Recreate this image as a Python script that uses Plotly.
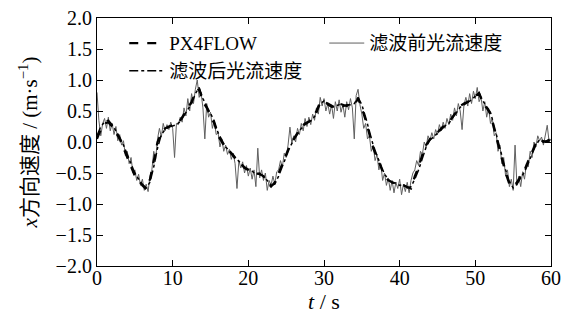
import numpy as np
import plotly.graph_objects as go

# PX4FLOW reference, sampled every 0.5 s
t_px = np.arange(0, 60.01, 0.5)
v_px = [0.05, 0.20, 0.30, 0.32, 0.25, 0.15, 0.05, -0.10, -0.25, -0.40,
        -0.55, -0.62, -0.70, -0.76, -0.60, -0.30, 0.00, 0.15, 0.22, 0.25,
        0.28, 0.30, 0.35, 0.45, 0.55, 0.65, 0.82, 0.85, 0.65, 0.55,
        0.42, 0.30, 0.10, 0.00, -0.10, -0.15, -0.22, -0.30, -0.35, -0.42,
        -0.45, -0.48, -0.50, -0.52, -0.55, -0.65, -0.72, -0.65, -0.50, -0.35,
        -0.20, -0.05, 0.05, 0.15, 0.25, 0.30, 0.33, 0.38, 0.50, 0.65,
        0.65, 0.62, 0.58, 0.55, 0.62, 0.60, 0.58, 0.62, 0.60, 0.70,
        0.55, 0.35, 0.10, -0.10, -0.25, -0.40, -0.55, -0.62, -0.65, -0.68,
        -0.70, -0.70, -0.72, -0.75, -0.55, -0.40, -0.20, -0.05, 0.05, 0.10,
        0.15, 0.22, 0.28, 0.32, 0.40, 0.50, 0.58, 0.62, 0.65, 0.70,
        0.75, 0.78, 0.62, 0.55, 0.45, 0.20, -0.05, -0.30, -0.50, -0.68,
        -0.72, -0.65, -0.55, -0.45, -0.30, -0.15, -0.02, 0.05, 0.00, 0.02,
        0.05]

# optical flow before filtering, sampled every 0.25 s
t_raw = np.arange(0, 60.001, 0.25)
v_raw = [0.80, 0.35, 0.10, 0.30, 0.38, 0.22, 0.40, 0.18, 0.30, 0.12, 0.25, 0.02,
         0.12, -0.05, 0.02, -0.22, -0.15, -0.35, -0.25, -0.50, -0.45, -0.62, -0.52, -0.70,
         -0.60, -0.78, -0.68, -0.80, -0.55, -0.45, -0.15, -0.28, 0.05, 0.22, 0.08, 0.30,
         0.18, 0.28, 0.20, 0.32, 0.22, -0.25, 0.30, 0.28, 0.40, 0.32, 0.55, 0.42,
         0.70, 0.50, 0.78, 0.62, 0.85, 1.00, 0.72, 0.80, 0.55, 0.05, 0.62, 0.40,
         0.48, 0.22, 0.35, 0.12, 0.15, -0.08, 0.05, -0.15, -0.05, -0.20, -0.12, -0.28,
         -0.18, -0.35, -0.75, -0.30, -0.42, -0.32, -0.50, -0.38, -0.55, -0.42, -0.60, -0.45,
         -0.72, -0.10, -0.58, -0.45, -0.62, -0.50, -0.78, -0.62, -0.70, -0.55, -0.68, -0.48,
         -0.45, -0.30, -0.40, -0.18, -0.25, -0.05, 0.24, -0.02, 0.10, 0.00, 0.22, 0.12,
         0.30, 0.18, 0.38, 0.25, 0.40, 0.28, 0.45, 0.35, 0.55, 0.45, 0.72, 0.58,
         0.70, 0.50, 0.62, 0.45, 0.60, 0.38, 0.65, 0.50, 0.68, 0.48, 0.60, 0.40,
         0.65, 0.52, 0.70, 0.55, 0.05, 0.75, 0.85, 0.60, 0.45, 0.22, 0.30, 0.05,
         0.10, -0.15, -0.05, -0.30, -0.20, -0.45, -0.35, -0.62, -0.50, -0.70, -0.58, -0.78,
         -0.62, -0.82, -0.65, -0.75, -0.60, -0.85, -0.68, -0.80, -0.65, -0.82, -0.62, -0.50,
         -0.45, -0.30, -0.38, -0.15, -0.20, 0.00, -0.08, 0.10, 0.02, 0.15, 0.05, 0.20,
         0.12, 0.28, 0.18, 0.32, 0.22, 0.38, 0.28, 0.45, 0.35, 0.55, 0.42, 0.62,
         0.50, 0.20, 0.60, 0.72, 0.58, 0.78, 0.62, 0.82, 0.70, 0.88, 0.65, 0.72,
         0.50, 0.65, 0.40, 0.55, 0.30, 0.38, 0.10, 0.15, -0.15, -0.05, -0.35, -0.25,
         -0.55, -0.45, -0.72, -0.60, -0.78, -0.05, -0.70, -0.55, -0.72, -0.48, -0.60, -0.35,
         -0.40, -0.15, -0.25, 0.00, -0.08, 0.10, 0.02, 0.08, -0.05, 0.10, 0.27, 0.00,
         0.05]

# optical flow after filtering, sampled every 0.5 s
t_filt = np.arange(0, 60.01, 0.5)
v_filt = [0.10, 0.25, 0.32, 0.35, 0.28, 0.18, 0.08, -0.05, -0.20, -0.35,
          -0.50, -0.60, -0.68, -0.74, -0.65, -0.40, -0.10, 0.12, 0.20, 0.24,
          0.26, 0.28, 0.33, 0.42, 0.52, 0.62, 0.78, 0.88, 0.70, 0.58,
          0.45, 0.34, 0.15, 0.03, -0.08, -0.14, -0.20, -0.28, -0.34, -0.40,
          -0.44, -0.47, -0.52, -0.50, -0.56, -0.62, -0.70, -0.68, -0.55, -0.40,
          -0.25, -0.08, 0.03, 0.12, 0.22, 0.28, 0.32, 0.36, 0.46, 0.62,
          0.66, 0.60, 0.56, 0.58, 0.60, 0.57, 0.60, 0.60, 0.62, 0.72,
          0.60, 0.40, 0.15, -0.05, -0.22, -0.36, -0.52, -0.60, -0.66, -0.66,
          -0.70, -0.68, -0.74, -0.72, -0.60, -0.45, -0.25, -0.08, 0.03, 0.08,
          0.14, 0.20, 0.26, 0.30, 0.38, 0.47, 0.56, 0.60, 0.64, 0.68,
          0.74, 0.80, 0.66, 0.57, 0.48, 0.25, 0.00, -0.25, -0.45, -0.64,
          -0.74, -0.68, -0.58, -0.48, -0.34, -0.18, -0.05, 0.04, 0.02, 0.00,
          0.04]

serif = "Liberation Serif, Times New Roman, Noto Sans CJK SC, serif"

fig = go.Figure()
fig.add_trace(go.Scatter(x=t_raw, y=v_raw, mode="lines", name="滤波前光流速度",
                         line=dict(color="#606060", width=1), legendrank=2))
fig.add_trace(go.Scatter(x=t_filt, y=v_filt, mode="lines", name="滤波后光流速度",
                         line=dict(color="black", width=1.5, dash="dashdot"), legendrank=3))
fig.add_trace(go.Scatter(x=t_px, y=v_px, mode="lines", name="PX4FLOW",
                         line=dict(color="black", width=2.2, dash="dash"), legendrank=1))

axis_common = dict(showline=True, linecolor="black", linewidth=1.2, mirror="ticks",
                   ticks="inside", ticklen=6, tickcolor="black", showgrid=False,
                   zeroline=False, automargin=False,
                   tickfont=dict(family=serif, size=20, color="black"))

fig.update_layout(
    width=568, height=327,
    margin=dict(l=97, r=17, t=18, b=61),
    paper_bgcolor="white", plot_bgcolor="white",
    font=dict(family=serif, size=18, color="black"),
    xaxis=dict(range=[0, 60], tickvals=[0, 10, 20, 30, 40, 50, 60],
               ticklabelstandoff=-6,
               title=dict(text="<i>t</i> / s", font=dict(family=serif, size=22), standoff=0),
               **axis_common),
    yaxis=dict(range=[-2, 2], tickvals=[-2, -1.5, -1, -0.5, 0, 0.5, 1, 1.5, 2],
               tickformat=".1f",
               title=dict(text="<i>x</i>方向速度 / (m·s<sup>−1</sup>)",
                          font=dict(family=serif, size=21), standoff=12),
               **axis_common),
    legend=dict(orientation="h", x=0.06, y=0.975, xanchor="left", yanchor="top",
                entrywidth=150, entrywidthmode="pixels", bgcolor="rgba(0,0,0,0)",
                font=dict(family=serif, size=19), tracegroupgap=0, itemwidth=35),
    showlegend=True,
)

fig.write_html("out.html")
